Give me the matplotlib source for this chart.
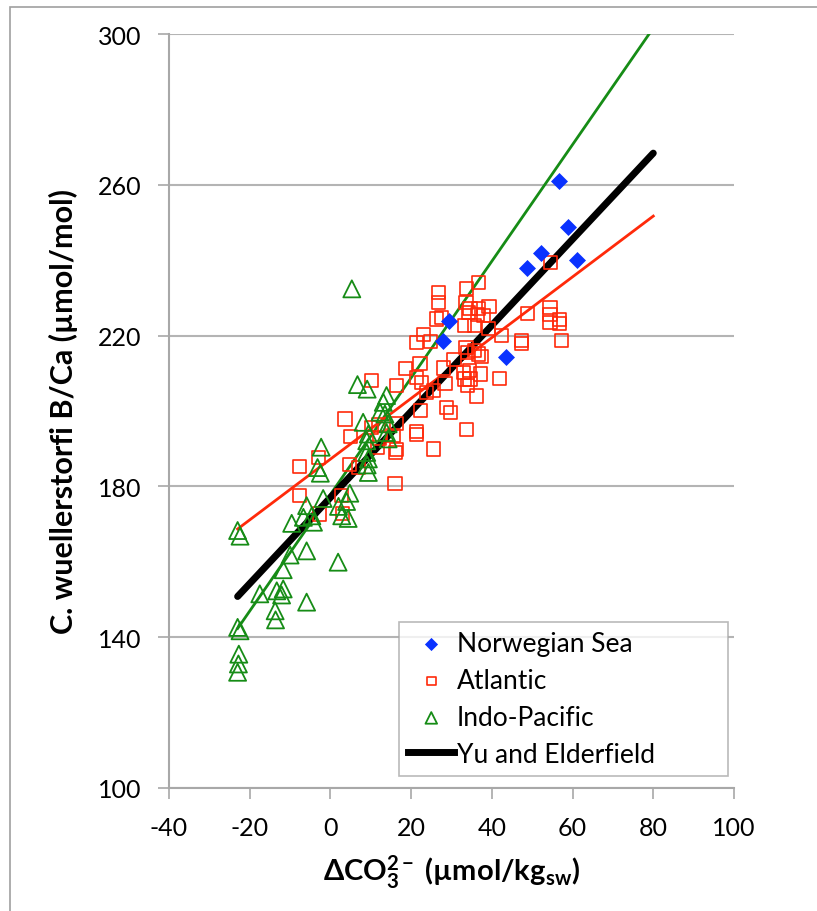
import numpy as np
import matplotlib
matplotlib.use("Agg")
import matplotlib.pyplot as plt
from matplotlib.patches import Rectangle

plt.rcParams["font.family"] = ["Lato", "DejaVu Sans"]
plt.rcParams["mathtext.fontset"] = "custom"
plt.rcParams["mathtext.rm"] = "Lato:bold"
plt.rcParams["mathtext.it"] = "Lato:bold"
plt.rcParams["mathtext.bf"] = "Lato:bold"
plt.rcParams["mathtext.default"] = "bf"
plt.rcParams["axes.unicode_minus"] = False

# Norwegian Sea (blue diamonds)
nor_x = [56.7, 58.9, 52.3, 48.6, 61.2, 43.5, 27.8, 29.5]
nor_y = [261.1, 248.9, 241.9, 237.9, 240.1, 214.2, 218.7, 223.8]

# Atlantic (red squares)
atl_x = [26.7, 26.7, 33.8, 36.6, 33.6, 34.6, 36.6, 34.2, 36.4, 39.3, 37.9, 26.3,
         27.6, 33.3, 35.8, 39.1, 48.9, 47.4, 47.4, 42.4, 23.0, 21.4, 24.7, 33.6,
         33.9, 35.8, 36.6, 37.5, 30.6, 18.5, 22.2, 28.0, 21.4, 22.6, 28.4, 32.9,
         34.4, 37.1, 33.3, 34.6, 33.9, 41.8, 16.4, 23.8, 25.5, 36.1, 28.8, 29.8,
         22.4,
         -7.7, -7.7, -3.0, -2.8, 2.8, 2.9, 4.8, 7.0, 3.6, 4.9, 10.2, 10.2, 11.9,
         12.1, 11.6, 16.0, 16.4, 15.7, 16.3, 16.2, 21.3, 21.4, 25.6, 33.8, 54.6,
         54.4, 54.4, 54.4, 56.8, 56.7, 57.3]
atl_y = [231.5, 228.8, 232.4, 234.0, 228.8, 227.1, 227.1, 226.2, 225.7, 227.8, 225.3, 224.4,
         224.9, 222.6, 222.6, 221.9, 225.9, 218.7, 217.8, 220.0, 220.4, 218.2, 218.4, 216.9,
         215.6, 216.0, 215.1, 214.5, 213.6, 211.3, 212.5, 211.4, 208.9, 207.6, 207.2, 210.3,
         210.7, 209.8, 208.5, 208.5, 206.7, 208.7, 206.7, 205.0, 205.4, 204.0, 201.0, 199.7,
         200.1,
         185.2, 177.6, 187.6, 172.7, 177.6, 172.9, 185.7, 185.0, 197.9, 193.3, 208.0, 195.7, 196.5,
         192.8, 190.4, 180.7, 196.6, 193.4, 189.7, 188.9, 194.6, 193.8, 189.9, 195.0, 239.3,
         227.5, 225.5, 223.5, 224.3, 223.3, 218.7]

# Indo-Pacific (green triangles)
ind_x = [-23.0, -22.4, -23.0, -22.4, -22.7, -22.8, -23.0, -17.5, -13.3, -11.7, -12.1,
         -13.7, -13.6, -5.9, -11.7, -10.0, -5.9, 1.9, -9.6, -6.7, -4.2, -5.9, -4.6,
         -1.8, -3.2, -2.5, -2.3, 2.0, 2.8, 4.4, 4.0, 4.8, 9.4, 9.1, 9.0, 9.4,
         6.7, 9.1, 13.9, 13.1, 12.3, 13.5, 8.1, 14.3, 13.9, 14.3, 9.4, 9.0, 5.3]
ind_y = [168.3, 166.8, 142.6, 141.7, 135.5, 132.9, 130.7, 151.5, 152.3, 152.8, 151.2,
         147.0, 144.6, 149.3, 157.9, 161.8, 162.9, 159.9, 170.2, 171.8, 170.5, 174.9, 172.2,
         176.8, 185.0, 183.5, 190.4, 174.7, 172.2, 171.5, 176.0, 178.2, 183.7, 185.7, 189.0, 187.3,
         207.0, 205.8, 204.1, 202.3, 199.7, 199.2, 197.0, 196.6, 194.3, 192.6, 193.9, 192.1, 232.4]

# fit lines (end points)
atl_fit_x = [-23.0, 80.0]
atl_fit_y = [168.7, 251.7]
ind_fit_x = [-23.0, 80.0]
ind_fit_y = [142.3, 301.6]
yu_fit_x = [-23.0, 80.0]
yu_fit_y = [150.8, 268.4]

fig = plt.figure(figsize=(8.17, 9.12), dpi=100)
ax = fig.add_axes([169 / 817, 1 - 789 / 912, 565 / 817, 754 / 912])

red = "#ff2a0a"
green = "#168c16"
blue = "#0a32ff"

ax.plot(ind_fit_x, ind_fit_y, color=green, lw=2, zorder=2)
ax.plot(atl_fit_x, atl_fit_y, color=red, lw=2, zorder=2)
ax.plot(yu_fit_x, yu_fit_y, color="black", lw=5, solid_capstyle="round", zorder=2)

ax.scatter(nor_x, nor_y, marker="D", s=75, color=blue, linewidths=0, zorder=4)
ax.scatter(atl_x, atl_y, marker="s", s=90, facecolors="none", edgecolors=red,
           linewidths=1.2, zorder=3)
ax.scatter(ind_x, ind_y, marker="^", s=150, facecolors="none", edgecolors=green,
           linewidths=1.3, zorder=3)

ax.set_xlim(-40, 100)
ax.set_ylim(100, 300)
ax.set_xticks(range(-40, 101, 20))
ax.set_yticks(range(100, 301, 40))
ax.yaxis.grid(True, color="#b4b4b4", lw=1.5)
ax.set_axisbelow(True)
for s in ["top", "right"]:
    ax.spines[s].set_visible(False)
for s in ["left", "bottom"]:
    ax.spines[s].set_color("#a8a8a8")
    ax.spines[s].set_linewidth(1.5)
ax.tick_params(axis="both", colors="#a8a8a8", length=8, width=1.2, labelsize=18,
               labelcolor="black", pad=12)

ax.set_xlabel(r"$\Delta$CO$_3^{2-}$ (µmol/kg$_{sw}$)", fontsize=21, fontweight="bold",
              labelpad=10)
ax.set_ylabel("C. wuellerstorfi B/Ca (µmol/mol)", fontsize=22, fontweight="bold",
              labelpad=14)

# legend built from proxies
h1 = ax.scatter([], [], marker="D", s=45, color=blue, linewidths=0)
h2 = ax.scatter([], [], marker="s", s=40, facecolors="none", edgecolors=red, linewidths=1.2)
h3 = ax.scatter([], [], marker="^", s=70, facecolors="none", edgecolors=green, linewidths=1.3)
h4, = ax.plot([], [], color="black", lw=5)
leg = ax.legend([h1, h2, h3, h4],
                ["Norwegian Sea", "Atlantic", "Indo-Pacific", "Yu and Elderfield"],
                loc="lower left", bbox_to_anchor=(0.407, 0.016, 0.582, 0.2), mode="expand",
                fontsize=19, frameon=True, fancybox=False, edgecolor="#a8a8a8",
                borderpad=0.35, labelspacing=0.45, handlelength=1.75, handletextpad=0.1,
                borderaxespad=0)
leg.get_frame().set_linewidth(1.2)

fig.patches.append(Rectangle((10 / 817, -0.5), 2, 1.5 - 8 / 912, transform=fig.transFigure,
                             fill=False, edgecolor="#a0a0a0", lw=1.2))

fig.savefig("out.png", dpi=100)
